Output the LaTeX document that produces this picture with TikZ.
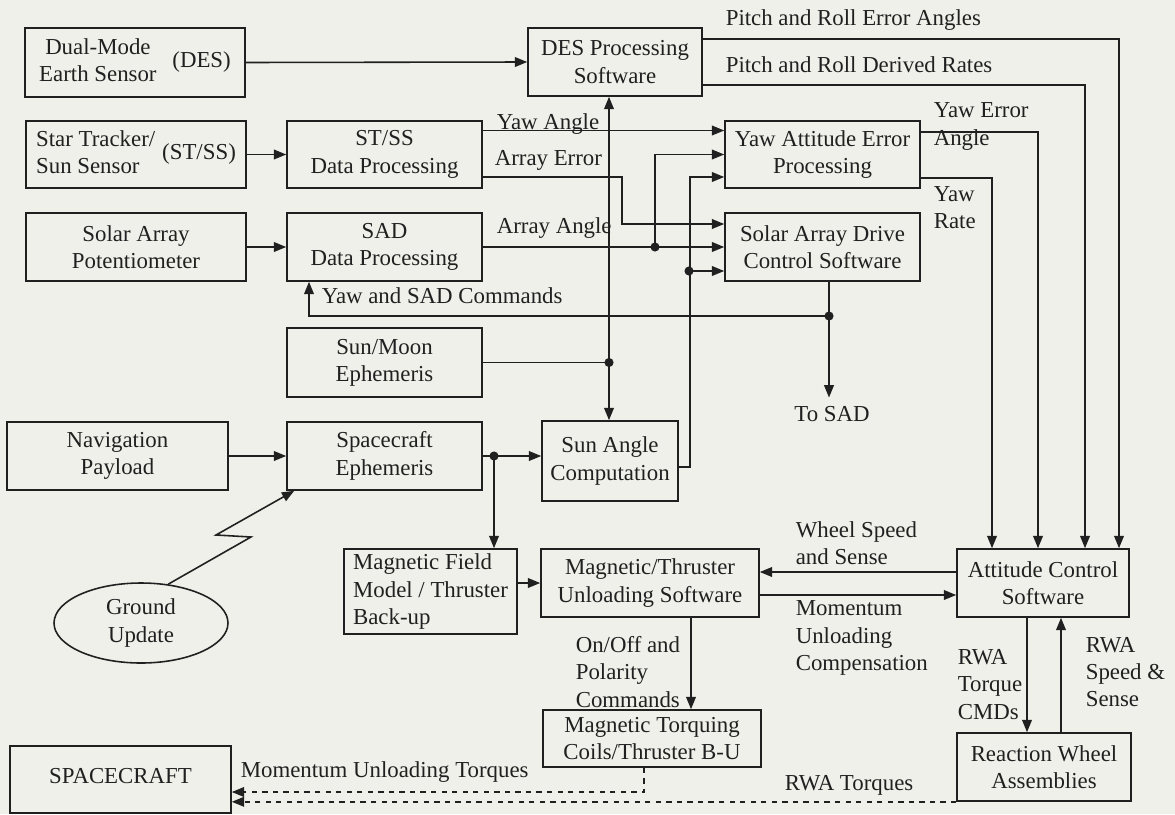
\documentclass[tikz,border=0pt]{standalone}
\usepackage{fontspec}
\setmainfont{Liberation Serif}
\usetikzlibrary{arrows.meta,calc,shapes.geometric}

\definecolor{paper}{RGB}{240,240,234}
\definecolor{ink}{RGB}{32,32,32}

\begin{document}
\begin{tikzpicture}[>={Triangle[length=7pt,width=5.5pt]},x=1.000cm,y=1.000cm,
 font=\fontsize{13pt}{15.5pt}\selectfont,draw=ink,text=ink,line width=0.9pt,
 box/.style={draw,align=center,inner sep=1pt},
 lab/.style={inner sep=0pt,align=left,anchor=west},
 tap/.style={fill=ink}]
\fill[paper] (0,0) rectangle (23.5,-16.28);
\useasboundingbox (0,0) rectangle (23.5,-16.28);
% sensors and first stage
\node[box,minimum width=4.40cm,minimum height=1.38cm] (desens) at (2.700,-1.250) {\begin{tabular}{@{}c@{}}Dual-Mode\\Earth Sensor\end{tabular}\hspace{9pt}(DES)};
\node[box,minimum width=4.40cm,minimum height=1.34cm] (stsens) at (2.720,-3.090) {\begin{tabular}{@{}l@{}}Star Tracker/\\Sun Sensor\end{tabular}\hspace{4pt}(ST/SS)};
\node[box,minimum width=4.40cm,minimum height=1.36cm] (sapot) at (2.720,-4.940) {Solar Array\\Potentiometer};
\node[box,minimum width=3.90cm,minimum height=1.34cm] (stdp) at (7.690,-3.090) {ST/SS\\Data Processing};
\node[box,minimum width=3.90cm,minimum height=1.36cm] (saddp) at (7.690,-4.940) {SAD\\Data Processing};
\node[box,minimum width=3.90cm,minimum height=1.38cm] (sunmoon) at (7.690,-7.250) {Sun/Moon\\Ephemeris};
\node[box,minimum width=4.42cm,minimum height=1.36cm] (nav) at (2.350,-9.120) {Navigation\\Payload};
\node[box,minimum width=3.90cm,minimum height=1.36cm] (scephem) at (7.690,-9.120) {Spacecraft\\Ephemeris};
\node[draw,ellipse,minimum width=3.48cm,minimum height=1.60cm,align=center,inner sep=0pt] (ground) at (2.820,-12.460) {Ground\\Update};
% processing software
\node[box,minimum width=3.48cm,minimum height=1.36cm] (despro) at (12.300,-1.240) {DES Processing\\Software};
\node[box,minimum width=3.90cm,minimum height=1.34cm] (yaep) at (16.450,-3.090) {Yaw Attitude Error\\Processing};
\node[box,minimum width=3.90cm,minimum height=1.36cm] (sadcs) at (16.450,-4.940) {Solar Array Drive\\Control Software};
\node[box,minimum width=2.72cm,minimum height=1.60cm] (sunang) at (12.200,-9.220) {Sun Angle\\Computation};
\node[box,align=left,minimum width=3.46cm,minimum height=1.70cm] (mfm) at (8.610,-11.830) {Magnetic Field\\Model / Thruster\\Back-up};
\node[box,minimum width=4.36cm,minimum height=1.36cm] (mtu) at (13.000,-11.660) {Magnetic/Thruster\\Unloading Software};
\node[box,minimum width=3.44cm,minimum height=1.36cm] (acs) at (20.860,-11.660) {Attitude Control\\Software};
\node[box,minimum width=4.36cm,minimum height=1.14cm] (mtc) at (13.040,-14.770) {Magnetic Torquing\\Coils/Thruster B-U};
\node[box,minimum width=3.48cm,minimum height=1.36cm] (rwa) at (20.880,-15.340) {Reaction Wheel\\Assemblies};
\node[box,minimum width=4.42cm,minimum height=1.34cm] (scraft) at (2.410,-15.590) {\raisebox{0.14cm}{SPACECRAFT}};
% junctions
\coordinate (smdot) at (12.180,-7.250);
\coordinate (sedot) at (9.880,-9.120);
\coordinate (aadot) at (13.100,-4.940);
\coordinate (sadot) at (13.780,-5.420);
\coordinate (cmddot) at (16.580,-6.320);
% labels
\node[lab] (lpre) at (14.500,-0.400) {Pitch and Roll Error Angles};
\node[lab] (lprr) at (14.500,-1.300) {Pitch and Roll Derived Rates};
\node[lab] (lyaw) at (9.920,-2.480) {Yaw Angle};
\node[lab] (laerr) at (9.880,-3.200) {Array Error};
\node[lab] (lang) at (9.920,-4.560) {Array Angle};
\node[lab] (lyea) at (18.660,-2.530) {Yaw Error\\Angle};
\node[lab] (lyr) at (18.660,-4.150) {Yaw\\Rate};
\node[lab] (lcmd) at (6.420,-5.920) {Yaw and SAD Commands};
\node[inner sep=0pt] (tosad) at (16.640,-8.280) {To SAD};
\node[lab] (lwss) at (15.900,-10.860) {Wheel Speed\\and Sense};
\node[lab] (lmuc) at (15.900,-12.760) {Momentum\\Unloading\\Compensation};
\node[lab] (lopc) at (11.500,-13.440) {On/Off and\\Polarity\\Commands};
\node[lab] (ltcmd) at (19.140,-13.690) {RWA\\Torque\\CMDs};
\node[lab] (lspd) at (21.700,-13.440) {RWA\\Speed \&\\Sense};
\node[lab] (lmut) at (4.800,-15.440) {Momentum Unloading Torques};
\node[lab] (lrwat) at (15.680,-15.700) {RWA Torques};
% connectors
\draw[->] (desens.east) -- (despro.west);
\draw[->] (stsens.east) -- (stdp.west);
\draw[->] (sapot.east) -- (saddp.west);
\draw[->] (nav.east) -- (scephem.west);
\draw[->] ($(stdp.east)+(0,0.48)$) -- ($(yaep.west)+(0,0.48)$);
\draw[->] ($(stdp.east)+(0,-0.45)$) -- ++(2.78,0) |- ($(sadcs.west)+(0,0.46)$);
\draw[->] (saddp.east) -- (sadcs.west);
\draw[->] (aadot) |- (yaep.west);
\draw[->] ($(sunang.east)+(0,-0.12)$) -- ++(0.22,0) |- ($(yaep.west)+(0,-0.45)$);
\draw[->] (sadot) -- (sadcs.west |- sadot);
\draw[->] (sadcs.south -| cmddot) -- ($(cmddot |- tosad.north)+(0,0.16)$);
\draw[->] (cmddot) -| ($(saddp.south)+(-1.51,0)$);
\draw (sunmoon.east) -- (smdot);
\draw[->] (smdot) -- (despro.south -| smdot);
\draw[->] (smdot) -- (sunang.north -| smdot);
\draw[->] (scephem.east) -- (sunang.west |- scephem.east);
\draw[->] (sedot) -- (mfm.north -| sedot);
\draw[->] (ground.55) -- (5.020,-10.740) -- (4.320,-10.700) -- ($(scephem.south west)+(0.16,0)$);
\draw[->] ($(despro.east)+(0,0.46)$) -| ($(acs.north)+(1.52,0)$);
\draw[->] ($(despro.east)+(0,-0.46)$) -| ($(acs.north)+(0.84,0)$);
\draw[->] ($(yaep.east)+(0,0.45)$) -| ($(acs.north)+(-0.10,0)$);
\draw[->] ($(yaep.east)+(0,-0.47)$) -| ($(acs.north)+(-1.02,0)$);
\draw[->] (mfm.east |- mtu.west) -- (mtu.west);
\draw[->] ($(acs.west)+(0,0.22)$) -- ($(mtu.east)+(0,0.22)$);
\draw[->] ($(mtu.east)+(0,-0.24)$) -- ($(acs.west)+(0,-0.24)$);
\draw[->] ($(mtu.south)+(0.82,0)$) -- ($(mtc.north)+(0.78,0)$);
\draw[->] ($(acs.south)+(-0.32,0)$) -- ($(rwa.north)+(-0.34,0)$);
\draw[->] ($(rwa.north)+(0.34,0)$) -- ($(acs.south)+(0.36,0)$);
\draw[->,dashed] ($(mtc.south)+(-0.16,0)$) |- ($(scraft.east)+(0,-0.25)$);
\draw[->,dashed] (rwa.south west) -- (scraft.east |- rwa.south west);
\foreach \p in {smdot,sedot,aadot,sadot,cmddot}
  \fill[tap] (\p) circle (2.6pt);
\end{tikzpicture}
\end{document}
